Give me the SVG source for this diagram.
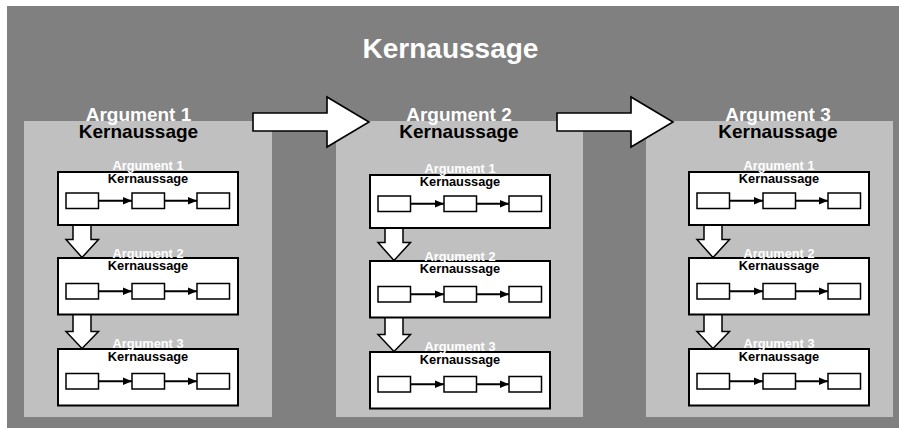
<svg xmlns="http://www.w3.org/2000/svg" width="899" height="428" viewBox="0 0 899 428">
<defs>
<style>
text{font-family:"Liberation Sans",Arial,Helvetica,sans-serif;font-weight:bold;text-anchor:middle}
.bg{fill:#808080}
.panel{fill:#c0c0c0}
.box{fill:#ffffff;stroke:#000000;stroke-width:2}
.step{fill:#ffffff;stroke:#000000;stroke-width:1.5}
.big{fill:#ffffff;stroke:#000000;stroke-width:1.6;stroke-linejoin:miter}
.down{fill:#ffffff;stroke:#000000;stroke-width:1.5;stroke-linejoin:miter}
.link{stroke:#000000;stroke-width:2;fill:none}
.title{fill:#ffffff;font-size:28px}
.ph{fill:#ffffff;font-size:19px}
.pk{fill:#000000;font-size:19px}
.bh{fill:#ffffff;font-size:12.8px}
.bk{fill:#000000;font-size:12.8px}
</style>
<marker id="ah" markerUnits="userSpaceOnUse" markerWidth="10" markerHeight="10" viewBox="0 0 10 10" refX="9.5" refY="5" orient="auto">
<path d="M0,1 L9.5,5 L0,9 Z" fill="#000000"/>
</marker>
<g id="steps">
<rect class="step" x="66" y="0" width="32.5" height="15.5"/>
<rect class="step" x="132" y="0" width="32.5" height="15.5"/>
<rect class="step" x="197" y="0" width="32.5" height="15.5"/>
<line class="link" x1="98.5" y1="7.75" x2="132" y2="7.75" marker-end="url(#ah)"/>
<line class="link" x1="164.5" y1="7.75" x2="197" y2="7.75" marker-end="url(#ah)"/>
</g>
</defs>

<rect class="bg" x="7" y="6" width="892" height="422"/>
<text class="title" x="450.5" y="58">Kernaussage</text>

<g id="panel-1">
<rect class="panel" x="24" y="121" width="248" height="296"/>
<text class="ph" x="138.5" y="120.5">Argument 1</text>
<text class="pk" x="138.5" y="138">Kernaussage</text>
</g>
<g id="panel-2">
<rect class="panel" x="336" y="121" width="247" height="296"/>
<text class="ph" x="459" y="120.5">Argument 2</text>
<text class="pk" x="459" y="138">Kernaussage</text>
</g>
<g id="panel-3">
<rect class="panel" x="646" y="121" width="247" height="296"/>
<text class="ph" x="778" y="120.5">Argument 3</text>
<text class="pk" x="778" y="138">Kernaussage</text>
</g>

<g id="connectors">
<polygon class="big" points="253,113 327,113 327,97 369,122 327,147 327,131 253,131"/>
<polygon class="big" points="557,113 631,113 631,97 673,122 631,147 631,131 557,131"/>
<g transform="translate(0,0)">
<polygon class="down" points="73,225 73,239.5 66,239.5 82,257.5 98.5,239.5 91,239.5 91,225"/>
<polygon class="down" points="73,314 73,331.5 66,331.5 82,348.5 98.5,331.5 91,331.5 91,314"/>
</g>
<g transform="translate(312,3)">
<polygon class="down" points="73,225 73,239.5 66,239.5 82,257.5 98.5,239.5 91,239.5 91,225"/>
<polygon class="down" points="73,314 73,331.5 66,331.5 82,348.5 98.5,331.5 91,331.5 91,314"/>
</g>
<g transform="translate(631,0)">
<polygon class="down" points="73,225 73,239.5 66,239.5 82,257.5 98.5,239.5 91,239.5 91,225"/>
<polygon class="down" points="73,314 73,331.5 66,331.5 82,348.5 98.5,331.5 91,331.5 91,314"/>
</g>
</g>

<g id="p1-box-1"><rect class="box" x="58" y="172" width="180" height="53"/><use href="#steps" y="193"/><text class="bh" x="148" y="169.5">Argument 1</text><text class="bk" x="148" y="182.5">Kernaussage</text></g>
<g id="p1-box-2"><rect class="box" x="58" y="258" width="180" height="56.5"/><use href="#steps" y="283.5"/><text class="bh" x="148" y="257.5">Argument 2</text><text class="bk" x="148" y="270">Kernaussage</text></g>
<g id="p1-box-3"><rect class="box" x="58" y="349" width="180" height="56.5"/><use href="#steps" y="373.5"/><text class="bh" x="148" y="347.5">Argument 3</text><text class="bk" x="148" y="360.5">Kernaussage</text></g>

<g transform="translate(312,3)">
<g id="p2-box-1"><rect class="box" x="58" y="172" width="180" height="53"/><use href="#steps" y="193"/><text class="bh" x="148" y="169.5">Argument 1</text><text class="bk" x="148" y="182.5">Kernaussage</text></g>
<g id="p2-box-2"><rect class="box" x="58" y="258" width="180" height="56.5"/><use href="#steps" y="283.5"/><text class="bh" x="148" y="257.5">Argument 2</text><text class="bk" x="148" y="270">Kernaussage</text></g>
<g id="p2-box-3"><rect class="box" x="58" y="349" width="180" height="56.5"/><use href="#steps" y="373.5"/><text class="bh" x="148" y="347.5">Argument 3</text><text class="bk" x="148" y="360.5">Kernaussage</text></g>
</g>

<g transform="translate(631,0)">
<g id="p3-box-1"><rect class="box" x="58" y="172" width="180" height="53"/><use href="#steps" y="193"/><text class="bh" x="148" y="169.5">Argument 1</text><text class="bk" x="148" y="182.5">Kernaussage</text></g>
<g id="p3-box-2"><rect class="box" x="58" y="258" width="180" height="56.5"/><use href="#steps" y="283.5"/><text class="bh" x="148" y="257.5">Argument 2</text><text class="bk" x="148" y="270">Kernaussage</text></g>
<g id="p3-box-3"><rect class="box" x="58" y="349" width="180" height="56.5"/><use href="#steps" y="373.5"/><text class="bh" x="148" y="347.5">Argument 3</text><text class="bk" x="148" y="360.5">Kernaussage</text></g>
</g>
</svg>
